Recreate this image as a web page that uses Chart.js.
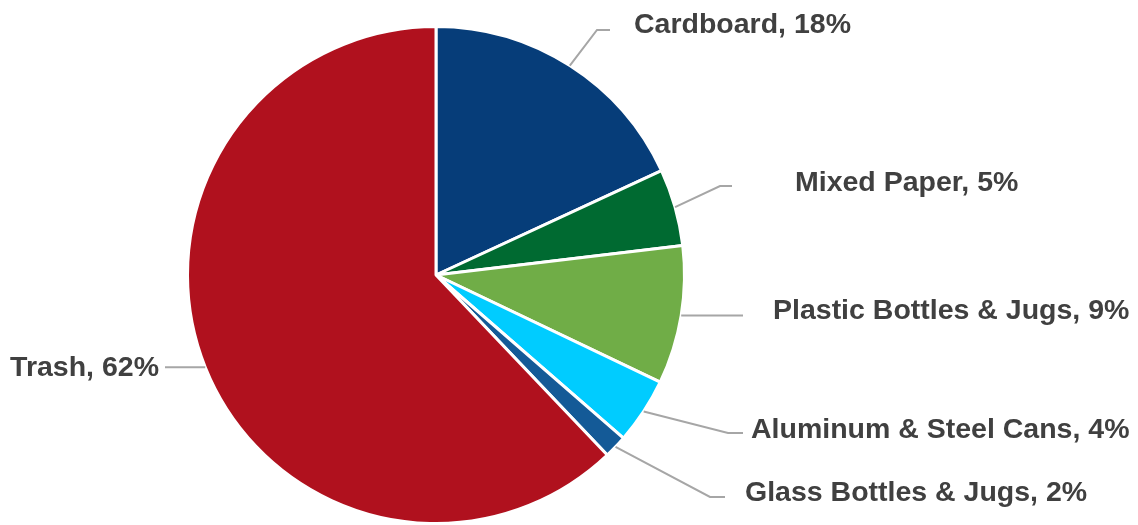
<!DOCTYPE html>
<html lang="en">
<head>
<meta charset="utf-8"/>
<title>Waste composition</title>
<style>
  body { margin: 0; background: #fff; }
  #wrap { width: 1138px; height: 525px; position: relative; }
</style>
</head>
<body>
<div id="wrap"><canvas id="pieChart" width="1138" height="525"></canvas></div>
<script src="https://cdn.jsdelivr.net/npm/chart.js"></script>
<script>
  // categories and their shares (%)
  const categories = ["Cardboard", "Mixed Paper", "Plastic Bottles & Jugs", "Aluminum & Steel Cans", "Glass Bottles & Jugs", "Trash"];
  const shares = [18.1, 5.0, 9.0, 4.3, 1.5, 62.1];
  const sliceColors = ["#063d79", "#006a31", "#70ad47", "#00ccff", "#145a97", "#b0111e"];

  // where each label sits: text x / baseline, leader elbow x, leader end x, leader y
  const labelLayout = [
    { tx: 634, ty: 33,  align: "left",  ex: 597, lx: 610, ly: 30 },
    { tx: 795, ty: 191, align: "left",  ex: 720, lx: 732, ly: 186 },
    { tx: 773, ty: 319, align: "left",  ex: null, lx: 743, ly: null },
    { tx: 751, ty: 438, align: "left",  ex: 728, lx: 743, ly: 433 },
    { tx: 745, ty: 501, align: "left",  ex: 710, lx: 725, ly: 497 },
    { tx: 159, ty: 376, align: "right", ex: null, lx: 165, ly: null }
  ];

  const leaderLabels = {
    id: 'leaderLabels',
    afterDatasetsDraw(chart) {
      const c = chart.ctx;
      const arcs = chart.getDatasetMeta(0).data;
      c.save();
      arcs.forEach((arc, i) => {
        const p = arc.getProps(['x', 'y', 'startAngle', 'endAngle', 'outerRadius'], true);
        const mid = (p.startAngle + p.endAngle) / 2;
        const sx = p.x + Math.cos(mid) * p.outerRadius;
        const sy = p.y + Math.sin(mid) * p.outerRadius;
        const L = labelLayout[i];
        const ly = L.ly === null ? sy : L.ly;
        c.strokeStyle = '#a6a6a6';
        c.lineWidth = 2;
        c.beginPath();
        c.moveTo(sx, sy);
        if (L.ex !== null) c.lineTo(L.ex, ly);
        c.lineTo(L.lx, ly);
        c.stroke();

        c.fillStyle = '#404040';
        c.font = "bold 28.5px 'Liberation Sans', Arial, sans-serif";
        c.textAlign = L.align;
        c.textBaseline = 'alphabetic';
        c.fillText(categories[i] + ', ' + Math.round(shares[i]) + '%', L.tx, L.ty);
      });
      c.restore();
    }
  };

  new Chart(document.getElementById('pieChart').getContext('2d'), {
    type: 'pie',
    data: {
      labels: categories,
      datasets: [{
        data: shares,
        backgroundColor: sliceColors,
        borderColor: '#ffffff',
        borderWidth: 3
      }]
    },
    options: {
      responsive: false,
      animation: false,
      layout: { padding: { left: 186, right: 452, top: 25, bottom: 0 } },
      plugins: {
        legend: { display: false },
        tooltip: { enabled: false }
      }
    },
    plugins: [leaderLabels]
  });
</script>
</body>
</html>
